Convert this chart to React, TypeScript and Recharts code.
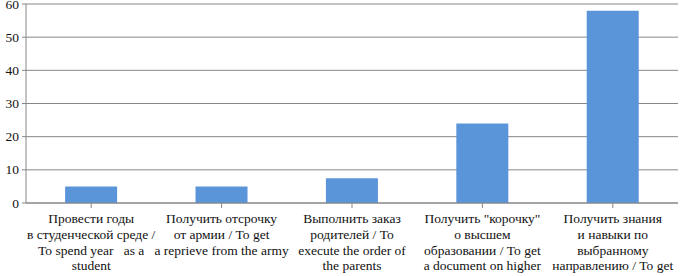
import { BarChart, Bar, XAxis, YAxis, CartesianGrid } from "recharts";

// ─── DATA ─────────────────────────────────────────────────────────────────────

const CATEGORIES = [
  ["Провести годы", "в студенческой среде /", "To spend year   as a", "student"],
  ["Получить отсрочку", "от армии / To get", "a reprieve from the army"],
  ["Выполнить заказ", "родителей / To", "execute the order of", "the parents"],
  ["Получить \"корочку\"", "о высшем", "образовании / To get", "a document on higher"],
  ["Получить знания", "и навыки по", "выбранному", "направлению / To get"],
];

const VALUES = [5, 5, 7.5, 24, 58];

const Y_TICKS = [0, 10, 20, 30, 40, 50, 60];

const data = CATEGORIES.map((_, i) => ({ key: String(i), value: VALUES[i] }));

const FONT = "Liberation Serif, Tinos, DejaVu Serif, serif";

// ─── TICKS ────────────────────────────────────────────────────────────────────

function CategoryTick({ x, y, payload }: { x?: number; y?: number; payload?: { value: string } }) {
  const lines = CATEGORIES[Number(payload?.value ?? 0)] ?? [];
  return (
    <text
      x={x}
      y={(y ?? 0) + 13}
      textAnchor="middle"
      fill="#111"
      fontFamily={FONT}
      fontSize={13.5}
      style={{ whiteSpace: "pre" }}
    >
      {lines.map((line, i) => (
        <tspan key={i} x={x} dy={i === 0 ? 0 : 15.8} fontFamily={FONT}>
          {line}
        </tspan>
      ))}
    </text>
  );
}

function ValueTick({ x, y, payload }: { x?: number; y?: number; payload?: { value: number } }) {
  return (
    <text
      x={(x ?? 0) - 1}
      y={(y ?? 0) + 4.5}
      textAnchor="end"
      fill="#111"
      fontFamily={FONT}
      fontSize={13.5}
    >
      {payload?.value}
    </text>
  );
}

// ─── MAIN ─────────────────────────────────────────────────────────────────────

export default function App() {
  return (
    <div
      style={{
        position: "absolute",
        left: 0,
        top: 0,
        width: 681,
        height: 276,
        background: "#fff",
      }}
    >
      <BarChart
        width={681}
        height={276}
        data={data}
        margin={{ top: 4, right: 3, left: 0, bottom: 0 }}
        barCategoryGap="30%"
      >
        <CartesianGrid vertical={false} stroke="#868686" strokeWidth={1} />
        <XAxis
          dataKey="key"
          height={73}
          interval={0}
          tick={<CategoryTick />}
          axisLine={{ stroke: "#868686" }}
          tickLine={{ stroke: "#868686" }}
          tickSize={5}
        />
        <YAxis
          width={26}
          domain={[0, 60]}
          ticks={Y_TICKS}
          interval={0}
          axisLine={{ stroke: "#868686" }}
          tickLine={{ stroke: "#868686" }}
          tickSize={4}
          tick={<ValueTick />}
        />
        <Bar dataKey="value" fill="#5b95d9" isAnimationActive={false} />
      </BarChart>
    </div>
  );
}
